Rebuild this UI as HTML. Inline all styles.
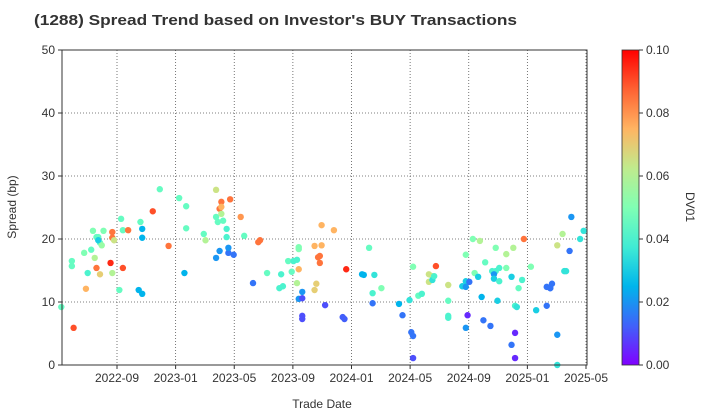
<!DOCTYPE html>
<html><head><meta charset="utf-8"><style>
body{margin:0;background:#fff;}
svg{display:block;font-family:"Liberation Sans",Arial,sans-serif;}
</style></head><body>
<svg id="chart" width="720" height="420" xmlns="http://www.w3.org/2000/svg">
<defs>
<linearGradient id="cb" x1="0" y1="1" x2="0" y2="0">
<stop offset="0" stop-color="#8000ff"/><stop offset="0.125" stop-color="#4062fa"/><stop offset="0.25" stop-color="#00b5eb"/><stop offset="0.375" stop-color="#40ecd4"/><stop offset="0.5" stop-color="#80ffb4"/><stop offset="0.625" stop-color="#c0eb8d"/><stop offset="0.75" stop-color="#ffb462"/><stop offset="0.875" stop-color="#ff6232"/><stop offset="1" stop-color="#ff0000"/>
</linearGradient>
</defs>
<text x="34" y="25" font-size="15" font-weight="bold" fill="#333" textLength="483" lengthAdjust="spacingAndGlyphs">(1288)   Spread Trend based on Investor's BUY Transactions</text>
<g id="grid"></g>
<g id="pts"></g>
<rect x="62" y="50" width="525" height="315" fill="none" stroke="#333" stroke-width="1"/>
<g id="axes"></g>
<text x="322" y="408" font-size="12" text-anchor="middle" fill="#333">Trade Date</text>
<text transform="translate(16,207) rotate(-90)" font-size="12" text-anchor="middle" fill="#333">Spread (bp)</text>
<rect x="622" y="50" width="17" height="315" fill="url(#cb)" stroke="#333" stroke-width="0.8"/>
<g id="cbticks"></g>
<text transform="translate(686,207) rotate(90)" font-size="12" text-anchor="middle" fill="#333">DV01</text>
</svg>
<script>
const dates=[2022.35,2022.42,2022.41,2022.41,2022.48,2022.49,2022.50,2022.52,2022.53,2022.54,2022.55,2022.55,2022.56,2022.57,2022.56,2022.57,2022.59,2022.58,2022.63,2022.64,2022.64,2022.64,2022.64,2022.65,2022.68,2022.69,2022.70,2022.70,2022.73,2022.79,2022.81,2022.81,2022.81,2022.80,2022.87,2022.91,2022.96,2023.02,2023.06,2023.05,2023.06,2023.16,2023.17,2023.23,2023.23,2023.24,2023.23,2023.25,2023.26,2023.26,2023.26,2023.27,2023.29,2023.29,2023.25,2023.30,2023.30,2023.31,2023.33,2023.37,2023.39,2023.44,2023.47,2023.48,2023.52,2023.60,2023.59,2023.61,2023.64,2023.66,2023.67,2023.69,2023.70,2023.70,2023.70,2023.69,2023.72,2023.70,2023.72,2023.72,2023.72,2023.79,2023.83,2023.83,2023.90,2023.81,2023.82,2023.82,2023.80,2023.79,2023.85,2023.95,2023.96,2023.97,2024.06,2024.07,2024.13,2024.10,2024.12,2024.17,2024.12,2024.27,2024.29,2024.33,2024.35,2024.34,2024.35,2024.35,2024.38,2024.40,2024.48,2024.44,2024.46,2024.44,2024.46,2024.47,2024.55,2024.55,2024.55,2024.55,2024.65,2024.66,2024.63,2024.65,2024.65,2024.67,2024.65,2024.69,2024.73,2024.70,2024.72,2024.74,2024.76,2024.75,2024.79,2024.80,2024.82,2024.81,2024.81,2024.82,2024.84,2024.84,2024.83,2024.88,2024.88,2024.91,2024.91,2024.92,2024.93,2024.94,2024.93,2024.93,2024.95,2024.97,2024.98,2025.02,2025.05,2025.11,2025.11,2025.13,2025.13,2025.14,2025.17,2025.17,2025.17,2025.20,2025.21,2025.22,2025.24,2025.25,2025.30,2025.32];
const spreads=[9.2,5.9,15.7,16.5,17.8,12.1,14.6,18.3,21.3,17.0,15.4,20.3,20.3,19.4,19.8,14.4,21.3,19.0,16.2,20.2,21.1,20.2,14.6,19.8,11.9,23.2,21.4,15.4,21.4,11.9,11.3,21.6,20.2,22.7,24.4,27.9,18.9,26.5,25.2,14.6,21.7,20.8,19.8,27.8,23.5,22.7,17.0,24.8,25.9,25.1,24.0,22.9,21.6,20.3,18.1,17.8,18.6,26.3,17.5,23.5,20.5,13.0,19.5,19.8,14.6,14.4,12.2,12.5,16.5,14.8,16.5,16.7,18.7,18.4,15.2,13.0,11.6,10.5,10.6,7.8,7.3,18.9,19.0,22.2,21.4,17.1,17.3,16.2,12.9,11.9,9.5,7.6,7.3,15.2,14.4,14.3,14.3,18.6,11.4,12.2,9.8,9.7,7.9,10.3,15.6,5.2,4.6,1.1,11.0,11.3,15.7,14.4,14.1,13.2,13.5,14.1,12.7,10.2,7.8,7.5,5.9,7.9,12.5,13.3,12.4,13.2,17.5,20.0,19.7,14.6,14.0,10.8,16.3,7.1,6.2,14.9,14.9,14.4,13.7,18.6,15.4,13.3,10.2,15.4,17.6,14.0,3.2,18.6,9.4,9.2,5.1,1.1,12.2,13.5,20.0,15.6,8.7,9.4,12.4,12.2,12.2,12.9,4.8,0.0,19.0,20.8,14.9,14.9,18.1,23.5,20.0,21.3];
const dv01=[.045,.09,.045,.045,.05,.075,.04,.045,.05,.06,.085,.045,.045,.045,.03,.07,.05,.055,.095,.065,.085,.085,.06,.065,.045,.045,.045,.09,.085,.025,.025,.025,.025,.045,.09,.045,.085,.045,.045,.025,.045,.045,.06,.065,.045,.045,.02,.085,.085,.075,.06,.045,.04,.04,.02,.015,.02,.085,.015,.08,.045,.015,.085,.085,.045,.04,.04,.04,.045,.045,.04,.04,.05,.05,.075,.06,.02,.02,.01,.01,.01,.075,.075,.075,.075,.085,.085,.085,.07,.07,.01,.012,.012,.095,.025,.025,.035,.045,.04,.05,.015,.025,.015,.035,.05,.015,.015,.01,.045,.04,.09,.065,.065,.065,.035,.04,.065,.045,.04,.04,.02,.005,.03,.03,.02,.015,.05,.05,.06,.05,.03,.025,.045,.015,.015,.04,.04,.02,.03,.05,.04,.04,.03,.05,.06,.03,.015,.06,.04,.035,.005,.005,.045,.04,.085,.05,.03,.015,.015,.015,.015,.015,.02,.035,.065,.06,.035,.035,.015,.02,.035,.035];
const xTickVals=[2022+8/12,2023,2023+4/12,2023+8/12,2024,2024+4/12,2024+8/12,2025,2025+4/12];
const xTickLabels=["2022-09","2023-01","2023-05","2023-09","2024-01","2024-05","2024-09","2025-01","2025-05"];
const yTickVals=[0,10,20,30,40,50];
const cbTickVals=[0,0.02,0.04,0.06,0.08,0.10];
const cbTickLabels=["0.00","0.02","0.04","0.06","0.08","0.10"];
const NS="http://www.w3.org/2000/svg";
const X0=62,X1=587,Y0=365,Y1=50;
const xScale=v=>117+(v-(2022+8/12))*(469/(8/3));
const yScale=v=>Y0-(v/50)*(Y0-Y1);
const cScale=v=>Y0-(v/0.1)*(Y0-Y1);
function rainbow(t){t=Math.max(0,Math.min(1,t));
 const r=Math.min(1,Math.abs(2*t-0.5)),g=Math.sin(Math.PI*t),b=Math.cos(Math.PI*t/2);
 return `rgb(${Math.round(r*255)},${Math.round(g*255)},${Math.round(b*255)})`;}
function mk(tag,attrs,parent){const e=document.createElementNS(NS,tag);for(const k in attrs)e.setAttribute(k,attrs[k]);parent.appendChild(e);return e;}
const grid=document.getElementById('grid'),axes=document.getElementById('axes'),pts=document.getElementById('pts'),cbt=document.getElementById('cbticks');
xTickVals.forEach((v,i)=>{const x=xScale(v);
 const l=mk('line',{x1:x,x2:x,y1:Y1,y2:Y0,stroke:'#555','stroke-width':0.8,'stroke-dasharray':'1,2'},grid);
 
 
 const t=mk('line',{x1:x,x2:x,y1:Y0,y2:Y0+4,stroke:'#333'},axes);
 
 
 const tx=mk('text',{x:x,y:Y0+17,'font-size':12,'text-anchor':'middle',fill:'#333'},axes);tx.textContent=xTickLabels[i];
 
 
});
yTickVals.forEach(v=>{const y=yScale(v);
 const l=mk('line',{x1:X0,x2:X1,y1:y,y2:y,stroke:'#555','stroke-width':0.8,'stroke-dasharray':'1,2'},grid);
 
 
 const t=mk('line',{x1:X0-4,x2:X0,y1:y,y2:y,stroke:'#333'},axes);
 
 
 const tx=mk('text',{x:X0-7,y:y+4,'font-size':12,'text-anchor':'end',fill:'#333'},axes);tx.textContent=v;
 
 
});
dates.forEach((d,i)=>{
 const c=mk('circle',{cx:xScale(d),cy:yScale(spreads[i]),r:3.2,fill:rainbow(dv01[i]/0.1)},pts);
 
 
});
cbTickVals.forEach((v,i)=>{const y=cScale(v);
 const t=mk('line',{x1:639,x2:643,y1:y,y2:y,stroke:'#333'},cbt);
 
 
 const tx=mk('text',{x:646,y:y+4,'font-size':12,fill:'#333'},cbt);tx.textContent=cbTickLabels[i];
 
 
});
</script>
</body></html>
